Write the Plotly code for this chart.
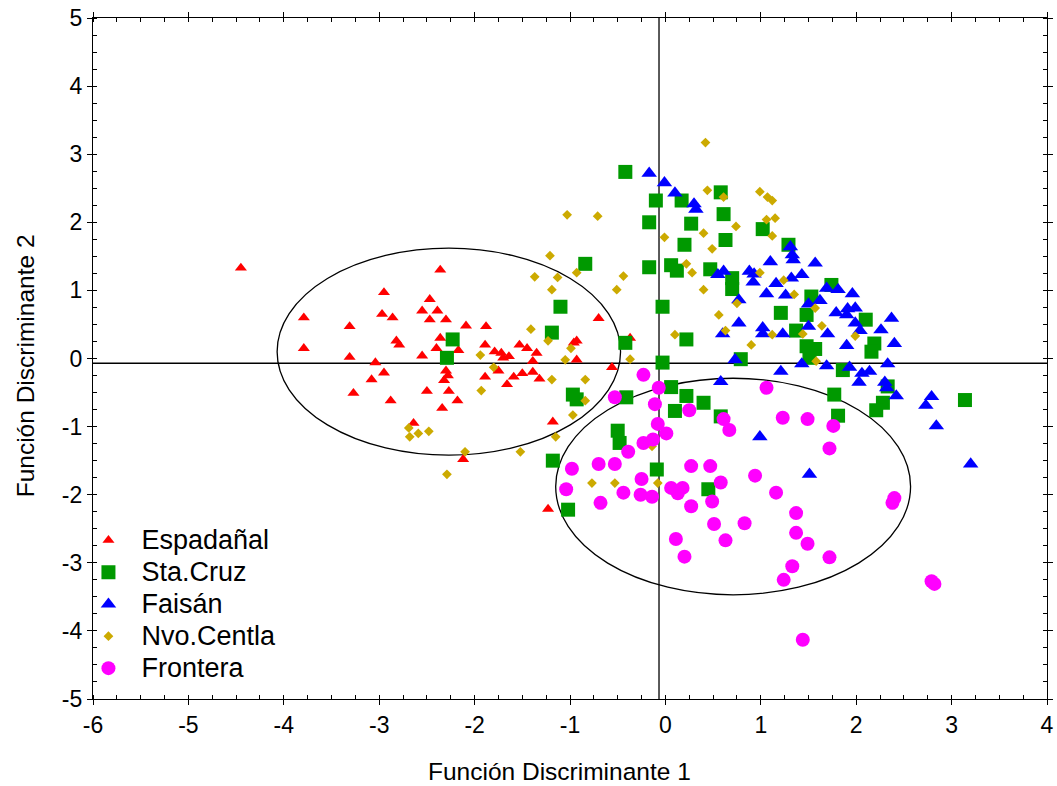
import plotly.graph_objects as go

# --- Discriminant scores per site ---
esp_x = [-4.45, -2.36, -2.95, -3.79, -2.47, -2.55, -2.39, -2.97, -2.86, -2.47, -2.30, -3.31, -2.09, -1.88,
         -3.79, -2.82, -2.79, -2.36, -2.40, -2.17, -1.89, -3.31, -2.55, -3.04, -2.95, -3.08, -2.30, -2.28,
         -2.32, -1.89, -3.27, -2.50, -2.27, -2.88, -2.18, -2.34, -2.64, -2.12, -0.70, -1.79, -1.72, -1.64,
         -1.70, -1.53, -1.45, -1.35, -1.39, -0.96, -0.93, -0.93, -0.37, -0.56, -1.75, -1.59, -1.50, -1.39,
         -1.66, -1.32, -1.18, -1.23]
esp_y = [1.33, 1.30, 0.97, 0.60, 0.87, 0.70, 0.70, 0.65, 0.60, 0.57, 0.57, 0.47, 0.48, 0.47,
         0.15, 0.26, 0.20, 0.30, 0.15, 0.12, 0.20, 0.02, 0.04, -0.06, -0.21, -0.31, -0.18, -0.25,
         -0.32, -0.27, -0.51, -0.48, -0.48, -0.62, -0.62, -0.73, -0.95, -1.48, 0.59, 0.10, 0.08, 0.03,
         0.01, 0.20, 0.15, 0.08, -0.04, 0.23, 0.26, -0.02, 0.30, -0.13, -0.18, -0.27, -0.22, -0.20,
         -0.38, -0.30, -0.93, -2.21]

stc_x = [-2.23, -2.29, -0.42, -0.10, -0.17, -0.84, -0.17, -1.10, -0.03, -1.19, -0.42, -0.03, -0.97, -0.93,
         -0.41, -0.50, -0.48, -1.18, -0.09, 0.17, 0.58, 0.27, 0.20, 0.61, 0.63, 1.02, 1.29, 0.06,
         0.12, 0.47, 0.70, 0.70, 1.21, 1.74, 1.53, 1.48, 1.37, 2.10, 1.48, 1.57, 1.51, 2.19,
         2.16, 1.86, 1.77, 2.33, 3.14, 1.81, 2.28, 2.21, 0.22, 0.79, 0.06, 0.22, 0.40, 0.10,
         0.58, 0.45, -1.02]
stc_y = [0.28, 0.01, 2.74, 2.32, 2.00, 1.39, 1.34, 0.76, 0.76, 0.38, 0.23, -0.06, -0.53, -0.60,
         -0.57, -1.06, -1.24, -1.50, -1.63, 2.32, 2.44, 1.98, 1.67, 2.12, 1.74, 1.90, 1.67, 1.37,
         1.29, 1.31, 1.18, 1.02, 0.67, 1.08, 0.91, 0.64, 0.41, 0.57, 0.18, 0.14, 0.01, 0.22,
         0.10, -0.17, -0.53, -0.41, -0.61, -0.84, -0.65, -0.76, 0.28, -0.01, -0.42, -0.55, -0.65, -0.77,
         -0.85, -1.92, -2.22]

fai_x = [-0.17, -0.01, 0.10, 0.30, 0.32, 0.55, 0.61, 0.88, 0.93, 0.92, 1.10, 1.16, 1.06, 1.26,
         1.31, 1.33, 1.34, 1.32, 0.77, 0.77, 1.02, 1.57, 1.43, 1.69, 1.81, 1.96, 1.50, 1.62,
         1.79, 1.91, 1.99, 1.90, 1.99, 2.04, 2.37, 2.26, 1.50, 1.70, 1.23, 1.90, 2.40, 1.43,
         1.69, 1.93, 1.21, 2.14, 2.33, 2.06, 2.03, 2.30, 2.32, 2.42, 2.79, 2.73, 2.84, 3.20,
         1.51, 0.60, 1.02, 0.73, 0.58, 0.99]
fai_y = [2.72, 2.58, 2.43, 2.27, 2.19, 1.23, 1.28, 1.28, 1.24, 1.12, 1.42, 1.10, 0.95, 0.93,
         1.64, 1.52, 1.45, 1.18, 0.86, 0.52, 0.45, 1.40, 1.23, 1.03, 1.01, 0.95, 0.80, 0.85,
         0.67, 0.73, 0.74, 0.64, 0.52, 0.41, 0.59, 0.42, 0.47, 0.36, 0.36, 0.19, 0.22, -0.08,
         -0.11, -0.13, -0.19, -0.19, -0.08, -0.22, -0.35, -0.35, -0.43, -0.55, -0.56, -0.69, -0.99, -1.55,
         -1.70, 0.36, 0.36, -0.02, -0.34, -1.15]

nvc_x = [-1.94, -1.93, -2.69, -2.68, -2.59, -2.48, -2.10, -2.29, -1.03, -0.71, -0.01, -1.21, -1.37, -1.13,
         -0.93, -1.19, -0.44, -0.51, -1.41, -1.23, -0.99, -1.05, -1.80, -0.37, -1.19, -0.84, -0.84, -0.97,
         -1.15, -1.52, -0.14, 0.42, 0.44, 0.61, 0.99, 1.07, 1.12, 1.06, 1.15, 0.74, 1.12, 0.40,
         0.49, 0.22, 0.28, 0.40, 0.99, 1.24, 1.35, 0.75, 0.56, 1.57, 1.64, 1.44, 1.99, 1.58,
         0.10, 0.63, 0.90, 1.12, -0.53, -0.08, -0.77]
nvc_y = [0.05, -0.47, -1.02, -1.15, -1.10, -1.07, -1.37, -1.70, 2.11, 2.09, 1.78, 1.51, 1.20, 1.19,
         1.26, 1.01, 1.21, 1.01, 0.43, 0.26, 0.15, -0.02, -0.13, -0.01, -0.31, -0.31, -0.62, -0.83,
         -1.15, -1.37, -1.29, 3.17, 2.47, 2.37, 2.45, 2.37, 2.32, 2.04, 2.06, 1.94, 1.80, 1.84,
         1.61, 1.39, 1.26, 1.01, 1.26, 1.15, 0.94, 0.81, 0.64, 0.74, 0.48, 0.36, 0.33, -0.04,
         0.35, 0.41, 0.20, 0.35, -1.83, -1.83, -1.83]

fro_x = [-0.23, -0.07, -0.53, -0.11, -0.08, 0.01, -0.13, -0.23, -0.39, -0.70, -0.53, -0.98, -0.25, 0.25,
         0.61, 0.67, 1.06, 1.23, 0.27, 0.47, 0.94, 0.58, -0.44, -0.26, -0.14, 0.06, 0.18, 0.13,
         1.16, -1.04, -0.68, 0.27, 0.49, 0.51, 0.83, 0.63, 0.11, 0.20, 1.37, 1.37, 1.49, 1.72,
         1.33, 1.24, 2.40, 2.38, 2.79, 2.82, 1.44, 1.49, 1.76, 1.72]
fro_y = [-0.24, -0.43, -0.57, -0.67, -0.96, -1.10, -1.19, -1.24, -1.37, -1.55, -1.55, -1.62, -1.77, -0.76,
         -0.89, -1.05, -0.43, -0.87, -1.58, -1.58, -1.72, -1.82, -1.97, -2.00, -2.03, -1.90, -1.90, -1.98,
         -1.97, -1.92, -2.12, -2.17, -2.10, -2.43, -2.42, -2.67, -2.65, -2.91, -2.27, -2.56, -2.72, -2.92,
         -3.05, -3.25, -2.05, -2.12, -3.27, -3.31, -4.13, -0.89, -0.99, -1.32]

# Axis ticks (plain hyphen minus signs)
x_ticks = [-6, -5, -4, -3, -2, -1, 0, 1, 2, 3, 4]
y_ticks = [-5, -4, -3, -2, -1, 0, 1, 2, 3, 4, 5]

# Group ellipses: centre x, centre y, half-width, half-height
ellipses = [(-2.27, 0.10, 1.80, 1.52), (0.71, -1.88, 1.86, 1.59)]
# Reference lines through the grand centroid
centroid_x = -0.067
centroid_y = -0.07

series = [
    ("Espadañal", esp_x, esp_y, "triangle-up", 10.5, "#FF0000"),
    ("Sta.Cruz", stc_x, stc_y, "square", 14, "#009900"),
    ("Faisán", fai_x, fai_y, "triangle-up", 13.5, "#0000FF"),
    ("Nvo.Centla", nvc_x, nvc_y, "diamond", 7.5, "#CCAA00"),
    ("Frontera", fro_x, fro_y, "circle", 14, "#FF00FF"),
]

fig = go.Figure()
for name, xs, ys, sym, size, col in series:
    fig.add_trace(go.Scatter(
        x=xs, y=ys, mode="markers",
        name=f"<span style='font-size:27px'>{name}</span>",
        marker=dict(symbol=sym, size=size, color=col, line=dict(width=0)),
    ))

for cx, cy, rx, ry in ellipses:
    fig.add_shape(type="circle", xref="x", yref="y",
                  x0=cx - rx, x1=cx + rx, y0=cy - ry, y1=cy + ry,
                  line=dict(color="black", width=1.3), layer="below")

fig.add_shape(type="line", xref="x", yref="paper", x0=centroid_x, x1=centroid_x, y0=0, y1=1,
              line=dict(color="black", width=1.3), layer="below")
fig.add_shape(type="line", xref="paper", yref="y", x0=0, x1=1, y0=centroid_y, y1=centroid_y,
              line=dict(color="black", width=1.3), layer="below")

font = "Arial, Liberation Sans, sans-serif"
axis_common = dict(
    showline=True, linecolor="black", linewidth=1.3, mirror="ticks",
    ticks="outside", ticklen=5, tickwidth=1, tickcolor="black",
    showgrid=False, zeroline=False, automargin=False,
    tickfont=dict(family=font, size=23, color="black"),
    minor=dict(ticks="inside", ticklen=4, tickwidth=1, tickcolor="black", dtick=0.25, showgrid=False),
)

fig.update_xaxes(range=[-6, 4], tickmode="array", tickvals=x_ticks,
                 ticktext=[str(v) for v in x_ticks], **axis_common)
fig.update_yaxes(range=[-5, 5], tickmode="array", tickvals=y_ticks,
                 ticktext=[str(v) for v in y_ticks], **axis_common)

# Axis titles
fig.add_annotation(text="Función Discriminante 1", xref="paper", yref="paper",
                   x=0.4885, y=-0.107, xanchor="center", yanchor="middle", showarrow=False,
                   font=dict(family=font, size=24.5, color="black"))
fig.add_annotation(text="Función Discriminante 2", xref="paper", yref="paper",
                   x=-0.0713, y=0.490, xanchor="center", yanchor="middle", showarrow=False,
                   textangle=-90, font=dict(family=font, size=24.5, color="black"))

fig.update_layout(
    width=1057, height=786,
    margin=dict(l=93, r=10, t=18, b=87),
    paper_bgcolor="white", plot_bgcolor="white",
    font=dict(family=font, size=23, color="black"),
    legend=dict(x=-0.0184, y=0.264, xanchor="left", yanchor="top",
                bgcolor="rgba(0,0,0,0)", font=dict(family=font, size=22.3, color="black"),
                itemsizing="trace", itemwidth=56, tracegroupgap=0),
)

fig.write_html("out.html")
